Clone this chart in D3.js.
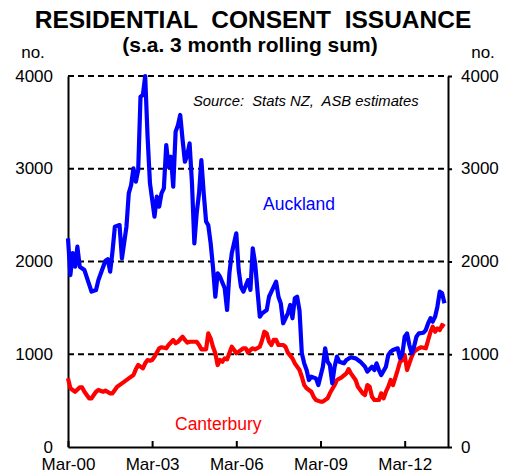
<!DOCTYPE html>
<html>
<head>
<meta charset="utf-8">
<script src="https://cdn.jsdelivr.net/npm/d3@7"></script>
<style>
  html, body { margin: 0; padding: 0; background: #fff; }
  svg text { font-family: 'Liberation Sans', Arial, sans-serif; }
</style>
</head>
<body>
<div id="chart"></div>
<script>
// s.a. 3 month rolling sum of residential consents
const aucklandDates = ['2000-03', '2000-04', '2000-05', '2000-06', '2000-07', '2000-08', '2000-10', '2001-01', '2001-03', '2001-04',
  '2001-07', '2001-08', '2001-09', '2001-10', '2001-11', '2002-01', '2002-02', '2002-04', '2002-05', '2002-06',
  '2002-07', '2002-08', '2002-09', '2002-10', '2002-11', '2002-12', '2003-01', '2003-02', '2003-04', '2003-05',
  '2003-06', '2003-07', '2003-08', '2003-09', '2003-10', '2003-11', '2003-12', '2004-01', '2004-02', '2004-03',
  '2004-04', '2004-05', '2004-06', '2004-07', '2004-08', '2004-09', '2004-10', '2004-11', '2004-12', '2005-01',
  '2005-02', '2005-03', '2005-04', '2005-05', '2005-06', '2005-07', '2005-08', '2005-10', '2005-11', '2005-12',
  '2006-01', '2006-03', '2006-04', '2006-05', '2006-06', '2006-08', '2006-09', '2006-10', '2006-11', '2006-12',
  '2007-01', '2007-02', '2007-04', '2007-05', '2007-06', '2007-08', '2007-09', '2007-10', '2007-11', '2008-01',
  '2008-02', '2008-03', '2008-04', '2008-05', '2008-06', '2008-07', '2008-08', '2008-09', '2008-10', '2008-11',
  '2009-01', '2009-02', '2009-04', '2009-05', '2009-06', '2009-07', '2009-08', '2009-09', '2009-10', '2009-11',
  '2010-01', '2010-02', '2010-04', '2010-06', '2010-08', '2010-10', '2010-11', '2011-01', '2011-02', '2011-03',
  '2011-04', '2011-05', '2011-07', '2011-08', '2011-09', '2011-10', '2011-12', '2012-01', '2012-02', '2012-03',
  '2012-04', '2012-05', '2012-06', '2012-07', '2012-08', '2012-09', '2012-11', '2012-12', '2013-01', '2013-02',
  '2013-03', '2013-04', '2013-05', '2013-06', '2013-07', '2013-08']
const aucklandValues = [2250, 1854, 2090, 1944, 2160, 1944, 1908, 1675, 1693, 1800,
  2008, 2024, 1890, 2106, 2375, 2393, 2034, 2375, 2735, 2825,
  3005, 2860, 2986, 3777, 3795, 4000, 3345, 2843, 2483, 2699,
  2591, 2735, 2789, 3256, 3022, 3130, 2807, 3400, 3472, 3580,
  3310, 3076, 3148, 3274, 2843, 2196, 2520, 2735, 3094, 2735,
  2429, 2393, 2196, 1944, 1620, 1873, 1836, 1711, 1477, 1873,
  2088, 2304, 1908, 1728, 1675, 1800, 1693, 2142, 1981, 1693,
  1405, 1441, 1477, 1620, 1675, 1782, 1620, 1549, 1334, 1441,
  1531, 1388, 1603, 1620, 1470, 1010, 902, 830, 722, 758,
  740, 668, 866, 1064, 920, 884, 687, 866, 974, 920,
  902, 938, 967, 956, 920, 866, 812, 866, 830, 902,
  830, 776, 866, 992, 1028, 1046, 1064, 956, 1010, 1189,
  1225, 1100, 1010, 1081, 1189, 1225, 1232, 1261, 1334, 1388,
  1351, 1405, 1513, 1675, 1657, 1549]

const canterburyDates = ['2000-03', '2000-04', '2000-05', '2000-06', '2000-08', '2000-09', '2000-10', '2000-12', '2001-01', '2001-03',
  '2001-04', '2001-06', '2001-07', '2001-09', '2001-10', '2001-11', '2001-12', '2002-02', '2002-05', '2002-07',
  '2002-08', '2002-09', '2002-11', '2002-12', '2003-01', '2003-02', '2003-03', '2003-04', '2003-06', '2003-07',
  '2003-09', '2003-10', '2003-12', '2004-01', '2004-02', '2004-04', '2004-05', '2004-06', '2004-07', '2004-10',
  '2004-11', '2004-12', '2005-02', '2005-03', '2005-04', '2005-05', '2005-06', '2005-07', '2005-08', '2005-09',
  '2005-10', '2005-11', '2006-01', '2006-02', '2006-03', '2006-04', '2006-06', '2006-07', '2006-08', '2006-09',
  '2006-10', '2006-11', '2007-01', '2007-02', '2007-03', '2007-04', '2007-05', '2007-06', '2007-07', '2007-08',
  '2007-09', '2007-11', '2007-12', '2008-01', '2008-03', '2008-04', '2008-06', '2008-07', '2008-08', '2008-09',
  '2008-11', '2008-12', '2009-01', '2009-03', '2009-04', '2009-06', '2009-07', '2009-09', '2009-10', '2009-12',
  '2010-02', '2010-03', '2010-04', '2010-06', '2010-07', '2010-09', '2010-10', '2010-11', '2010-12', '2011-01',
  '2011-02', '2011-04', '2011-05', '2011-06', '2011-07', '2011-08', '2011-09', '2011-10', '2011-12', '2012-01',
  '2012-02', '2012-03', '2012-04', '2012-05', '2012-06', '2012-07', '2012-09', '2012-10', '2012-12', '2013-01',
  '2013-02', '2013-03', '2013-04', '2013-05', '2013-06', '2013-07', '2013-08']
const canterburyValues = [740, 633, 615, 596, 643, 643, 596, 525, 525, 596,
  615, 596, 607, 579, 579, 615, 650, 686, 740, 776,
  837, 884, 848, 902, 938, 930, 938, 974, 1064, 1075,
  1064, 1100, 1154, 1118, 1135, 1189, 1154, 1125, 1135, 1135,
  1100, 1053, 1053, 1225, 1172, 1081, 1010, 884, 938, 920,
  956, 945, 1081, 1046, 1010, 1028, 1064, 1064, 1017, 1046,
  1064, 1053, 1081, 1154, 1243, 1225, 1135, 1100, 1154, 1154,
  1100, 1100, 1081, 1017, 956, 902, 830, 758, 668, 633,
  596, 542, 507, 489, 489, 525, 579, 668, 722, 750,
  794, 840, 794, 722, 650, 579, 561, 668, 650, 542,
  507, 507, 579, 525, 596, 650, 722, 668, 830, 920,
  938, 992, 830, 902, 974, 1028, 1064, 1075, 1064, 1154,
  1243, 1297, 1243, 1279, 1261, 1315, 1297]

const xStart = '2000-03-01'
const xEnd = '2013-09-16'
const tickDates = ['2000-03', '2003-03', '2006-03', '2009-03', '2012-03']
const yTicks = [0, 1000, 2000, 3000, 4000]

const parseMonth = d3.timeParse('%Y-%m')
const parseDay = d3.timeParse('%Y-%m-%d')

const width = 506
const height = 475
const margin = { top: 76, right: 58, bottom: 28, left: 68 }

const svg = d3.select('#chart')
  .append('svg')
  .attr('width', width)
  .attr('height', height)
  .attr('viewBox', [0, 0, width, height])

const xScale = d3.scaleTime()
  .domain([parseDay(xStart), parseDay(xEnd)])
  .range([margin.left, width - margin.right])
const yScale = d3.scaleLinear()
  .domain([0, 4000])
  .range([height - margin.bottom, margin.top])

// titles
svg.append('text')
  .attr('x', 253)
  .attr('y', 28)
  .attr('text-anchor', 'middle')
  .attr('font-size', 24.5)
  .attr('font-weight', 'bold')
  .attr('xml:space', 'preserve')
  .text('RESIDENTIAL  CONSENT  ISSUANCE')
svg.append('text')
  .attr('x', 250)
  .attr('y', 52)
  .attr('text-anchor', 'middle')
  .attr('font-size', 21)
  .attr('font-weight', 'bold')
  .text('(s.a. 3 month rolling sum)')
svg.append('text')
  .attr('x', 33)
  .attr('y', 58)
  .attr('text-anchor', 'middle')
  .attr('font-size', 17)
  .text('no.')
svg.append('text')
  .attr('x', 483)
  .attr('y', 58)
  .attr('text-anchor', 'middle')
  .attr('font-size', 17)
  .text('no.')

// gridlines
svg.append('g')
  .selectAll('line')
  .data(yTicks.filter(d => d > 0))
  .join('line')
  .attr('x1', margin.left)
  .attr('x2', width - margin.right)
  .attr('y1', d => yScale(d))
  .attr('y2', d => yScale(d))
  .attr('stroke', '#000')
  .attr('stroke-width', 2)
  .attr('stroke-dasharray', '6,4')

// axes
const axisX = d3.axisBottom(xScale)
  .tickValues(tickDates.map(parseMonth))
  .tickFormat(d3.timeFormat('%b-%y'))
  .tickSizeInner(-6)
  .tickSizeOuter(0)
  .tickPadding(11)
const axisL = d3.axisLeft(yScale).tickValues(yTicks).tickFormat(d3.format('d'))
  .tickSizeInner(0).tickSizeOuter(0).tickPadding(15)
const axisR = d3.axisRight(yScale).tickValues(yTicks).tickFormat(d3.format('d'))
  .tickSizeInner(4).tickSizeOuter(0).tickPadding(9)

const gx = svg.append('g')
  .attr('transform', `translate(0, ${height - margin.bottom})`)
  .call(axisX)
const gl = svg.append('g')
  .attr('transform', `translate(${margin.left}, 0)`)
  .call(axisL)
const gr = svg.append('g')
  .attr('transform', `translate(${width - margin.right}, 0)`)
  .call(axisR)
for (const g of [gx, gl, gr]) {
  g.select('.domain').attr('stroke', '#000').attr('stroke-width', 2)
  g.selectAll('.tick line').attr('stroke', '#000').attr('stroke-width', 2)
  g.selectAll('.tick text')
    .attr('fill', '#000')
    .attr('font-size', 17)
    .attr('font-family', "'Liberation Sans', Arial, sans-serif")
}
gl.selectAll('.tick text').attr('dy', '0.3em')
gr.selectAll('.tick text').attr('dy', '0.3em')

// source note
svg.append('text')
  .attr('x', 193)
  .attr('y', 106)
  .attr('font-size', 14.8)
  .attr('font-style', 'italic')
  .attr('xml:space', 'preserve')
  .text('Source:  Stats NZ,  ASB estimates')

// lines
const line = d3.line()
  .x(d => xScale(d.date))
  .y(d => yScale(d.value))

const series = [
  { name: 'Canterbury', color: '#ff0000', dates: canterburyDates, values: canterburyValues },
  { name: 'Auckland', color: '#0000ff', dates: aucklandDates, values: aucklandValues }
]
series.forEach(s => {
  const pts = s.dates.map((d, i) => ({ date: parseMonth(d), value: s.values[i] }))
  svg.append('path')
    .datum(pts)
    .attr('d', line)
    .attr('fill', 'none')
    .attr('stroke', s.color)
    .attr('stroke-width', 4.2)
    .attr('stroke-linejoin', 'round')
})

svg.append('text')
  .attr('x', 263)
  .attr('y', 210)
  .attr('fill', '#0000ff')
  .attr('font-size', 17.5)
  .text('Auckland')
svg.append('text')
  .attr('x', 175)
  .attr('y', 430)
  .attr('fill', '#ff0000')
  .attr('font-size', 17.5)
  .text('Canterbury')
</script>
</body>
</html>
